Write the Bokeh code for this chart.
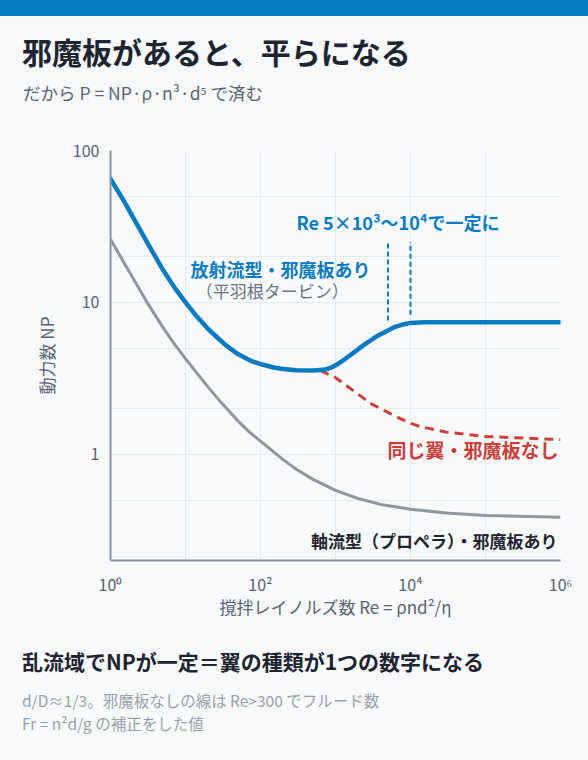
from bokeh.plotting import figure
from bokeh.layouts import column
from bokeh.models import Range1d, FixedTicker, Div
from bokeh.core.properties import value
from bokeh.embed import file_html
from bokeh.resources import INLINE

# ---------------- data ----------------
TITLE = "邪魔板があると、平らになる"
SUBTITLE = "だから P = NP·ρ·n³·d⁵ で済む"
FOOT_HEAD = "乱流域でNPが一定＝翼の種類が1つの数字になる"
FOOT_NOTES = ["d/D≈1/3。邪魔板なしの線は Re>300 でフルード数",
              "Fr = n²d/g の補正をした値"]
X_LABEL = "撹拌レイノルズ数 Re = ρnd²/η"
Y_LABEL = "動力数 NP"

X_TICKS = [1, 100, 10000, 1000000]
X_TICK_LABELS = ["10⁰", "10²", "10⁴", "10⁶"]
X_MINOR = [10, 1000, 100000]
Y_TICKS = [1, 10, 100]
Y_TICK_LABELS = ["1", "10", "100"]
Y_MINOR = [0.2, 0.5, 2, 5, 20, 50]

BLUE_RE = [1, 1.5, 2, 3, 5, 7, 10, 14, 20, 34, 50, 74, 100, 150, 200, 300, 500, 700,
           850, 1000, 1300, 1600, 2400, 3500, 5000, 6000, 8000, 10000, 15000, 100000, 1000000]
BLUE_NP = [65, 46.8, 36.3, 25.4, 16.4, 12.7, 10.0, 8.13, 6.68, 5.25, 4.57, 4.13, 3.93, 3.73, 3.64, 3.57, 3.56, 3.6,
           3.7, 3.85, 4.19, 4.52, 5.25, 5.96, 6.53, 6.84, 7.16, 7.33, 7.4, 7.41, 7.41]

RED_RE = [630, 1000, 1750, 3000, 6000, 10000, 13600, 30000, 100000, 1000000]
RED_NP = [3.56, 3.2, 2.61, 2.15, 1.8, 1.6, 1.52, 1.4, 1.31, 1.25]

GRAY_RE = [1, 1.5, 2, 3, 5, 7, 10, 20, 30, 50, 70, 100, 200, 300, 500, 1000, 2000, 4000,
           10000, 30000, 100000, 1000000]
GRAY_NP = [26, 18.4, 14.4, 10.2, 6.85, 5.38, 4.26, 2.77, 2.19, 1.66, 1.41, 1.22, 0.923, 0.798, 0.684, 0.579, 0.512, 0.468,
           0.435, 0.411, 0.396, 0.385]

MARK_RE = [5000, 10000]
MARK_TOP = [25, 25]
MARK_BOTTOM = [7.6, 8.3]

ANN_CONST = "Re 5×10³〜10⁴で一定に"
ANN_CONST_POS = (6810, 33.9)
ANN_BLUE = "放射流型・邪魔板あり"
ANN_BLUE_POS = (185, 16.7)
ANN_BLUE_SUB = "（平羽根タービン）"
ANN_BLUE_SUB_POS = (143, 11.9)
ANN_RED = "同じ翼・邪魔板なし"
ANN_RED_POS = (1000000, 1.08)
ANN_GRAY = "軸流型（プロペラ）・邪魔板あり"
ANN_GRAY_POS = (1000000, 0.269)

# ---------------- style / layout ----------------
FONT_NAME = "Noto Sans CJK JP"
FONT = value(FONT_NAME)
BG = "#f7f9fb"
BLUE = "#0b7bc1"
RED = "#c9403a"
GRAY = "#8f969e"
DARK = "#1e2430"
W = 588
H_HEAD, H_MAIN, H_FOOT = 134, 496, 130


def abs_text(top, left, size, color, txt, weight="normal"):
    return (f'<div style="position:absolute;left:{left}px;top:{top}px;white-space:nowrap;'
            f'font-family:\'{FONT_NAME}\';font-size:{size}px;line-height:{size}px;'
            f'font-weight:{weight};color:{color};">{txt}</div>')


head_html = (f'<div style="position:relative;width:{W}px;height:{H_HEAD}px;background:{BG};">'
             f'<div style="position:absolute;left:0;top:0;width:{W}px;height:16px;background:#0a7dc4;"></div>'
             + abs_text(36, 22, 30, DARK, TITLE, "bold")
             + abs_text(84, 23, 17.5, "#5b6472", SUBTITLE)
             + '</div>')
head = Div(text=head_html, width=W, height=H_HEAD, margin=(0, 0, 0, 0),
           styles={"background-color": BG})

foot_html = (f'<div style="position:relative;width:{W}px;height:{H_FOOT}px;background:{BG};">'
             + abs_text(21, 22, 21, DARK, FOOT_HEAD, "bold")
             + abs_text(63, 22, 15.5, "#9aa1ab", FOOT_NOTES[0])
             + abs_text(86, 22, 15.5, "#9aa1ab", FOOT_NOTES[1])
             + '</div>')
foot = Div(text=foot_html, width=W, height=H_FOOT, margin=(0, 0, 0, 0),
           styles={"background-color": BG})

p = figure(width=W, height=H_MAIN, x_axis_type="log", y_axis_type="log",
           x_range=Range1d(1, 1e6), y_range=Range1d(0.2, 100),
           toolbar_location=None, output_backend="svg",
           min_border_left=110, min_border_right=28, min_border_top=16, min_border_bottom=70,
           margin=(0, 0, 0, 0))
p.background_fill_color = BG
p.border_fill_color = BG
p.outline_line_color = None

p.xaxis.ticker = FixedTicker(ticks=X_TICKS, minor_ticks=X_MINOR)
p.yaxis.ticker = FixedTicker(ticks=Y_TICKS, minor_ticks=Y_MINOR)
p.xaxis.major_label_overrides = dict(zip(X_TICKS, X_TICK_LABELS))
p.yaxis.major_label_overrides = dict(zip(Y_TICKS, Y_TICK_LABELS))

for ax in (p.xaxis, p.yaxis):
    ax.axis_line_color = "#8c939c"
    ax.axis_line_width = 2
    ax.major_tick_line_color = None
    ax.minor_tick_line_color = None
    ax.major_label_text_font = FONT_NAME
    ax.major_label_text_font_size = "16px"
    ax.major_label_text_color = "#5a6270"
    ax.axis_label_text_font = FONT_NAME
    ax.axis_label_text_font_size = "17px"
    ax.axis_label_text_font_style = "normal"
    ax.axis_label_text_color = "#5a6270"

p.xaxis.axis_label = X_LABEL
p.yaxis.axis_label = Y_LABEL
p.xaxis.major_label_standoff = 5
p.xaxis.axis_label_standoff = -5
p.yaxis.major_label_standoff = 5
p.yaxis.axis_label_standoff = 11

for g in (p.xgrid, p.ygrid):
    g.grid_line_color = "#e5eaef"
    g.grid_line_width = 1
    g.minor_grid_line_color = "#e5eaef"
    g.minor_grid_line_width = 1

p.line(GRAY_RE, GRAY_NP, line_color=GRAY, line_width=3, line_join="round")
p.line(RED_RE, RED_NP, line_color=RED, line_width=3, line_dash="9 6", line_join="round")
p.segment(x0=MARK_RE, y0=MARK_BOTTOM, x1=MARK_RE, y1=MARK_TOP,
          line_color=BLUE, line_width=2, line_dash="5 3")
p.line(BLUE_RE, BLUE_NP, line_color=BLUE, line_width=4.5, line_join="round", line_cap="round")

p.text(x=[ANN_CONST_POS[0]], y=[ANN_CONST_POS[1]], text=[ANN_CONST], text_font=FONT,
       text_font_style="bold", text_font_size="18px", text_color=BLUE,
       text_align="center", text_baseline="middle")
p.text(x=[ANN_BLUE_POS[0]], y=[ANN_BLUE_POS[1]], text=[ANN_BLUE], text_font=FONT,
       text_font_style="bold", text_font_size="18px", text_color=BLUE,
       text_align="center", text_baseline="middle")
p.text(x=[ANN_BLUE_SUB_POS[0]], y=[ANN_BLUE_SUB_POS[1]], text=[ANN_BLUE_SUB], text_font=FONT,
       text_font_size="17px", text_color="#6b7480",
       text_align="center", text_baseline="middle")
p.text(x=[ANN_RED_POS[0]], y=[ANN_RED_POS[1]], text=[ANN_RED], text_font=FONT,
       text_font_style="bold", text_font_size="19px", text_color=RED,
       text_align="right", text_baseline="middle", x_offset=-2)
p.text(x=[ANN_GRAY_POS[0]], y=[ANN_GRAY_POS[1]], text=[ANN_GRAY], text_font=FONT,
       text_font_style="bold", text_font_size="17px", text_color=DARK,
       text_align="right", text_baseline="middle", x_offset=-3)

layout = column(head, p, foot, spacing=0, styles={"background-color": BG})

open("out.html", "w").write(file_html(layout, INLINE))
